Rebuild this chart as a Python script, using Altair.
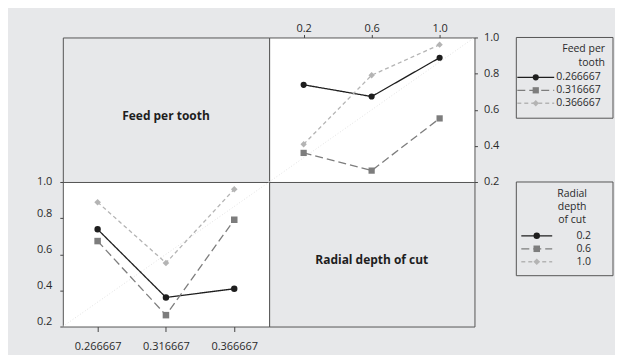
import altair as alt
import pandas as pd

# ---------------- data ----------------
feed_levels = [0.266667, 0.316667, 0.366667]
feed_labels = ["0.266667", "0.316667", "0.366667"]
depth_levels = [0.2, 0.6, 1.0]
depth_labels = ["0.2", "0.6", "1.0"]
# mean response: rows = feed per tooth level, columns = radial depth of cut level
mean_resp = [
    [0.738, 0.673, 0.888],
    [0.361, 0.263, 0.552],
    [0.409, 0.791, 0.960],
]
y_ticks = [0.2, 0.4, 0.6, 0.8, 1.0]
panel_titles = ["Feed per tooth", "Radial depth of cut"]
legend1_title = ["Feed per", "tooth"]
legend2_title = ["Radial", "depth", "of cut"]

# ---------------- styles ----------------
BG = "#e7e8ea"
FRAME = "#555555"
TXT = "#2a2a2a"
FONT = "Open Sans"
series_colors = ["#1e1e1e", "#7d7d7d", "#b4b4b4"]
series_dash = [[1, 0], [8, 4], [4, 3]]
series_shape = ["circle", "square", "diamond"]
series_size = [38, 44, 72]

W1, W2, H = 207, 206, 145

tr_rows = []
for i, f in enumerate(feed_labels):
    for j, d in enumerate(depth_levels):
        tr_rows.append({"x": d, "series": f, "value": mean_resp[i][j]})
bl_rows = []
for j, d in enumerate(depth_labels):
    for i, f in enumerate(feed_levels):
        bl_rows.append({"x": f, "series": d, "value": mean_resp[i][j]})
tr_df = pd.DataFrame(tr_rows)
bl_df = pd.DataFrame(bl_rows)
one = pd.DataFrame({"k": [0]})


def series_encodings(labels):
    color = alt.Color("series:N", scale=alt.Scale(domain=labels, range=series_colors), legend=None)
    dash = alt.StrokeDash("series:N", scale=alt.Scale(domain=labels, range=series_dash), legend=None)
    shape = alt.Shape("series:N", scale=alt.Scale(domain=labels, range=series_shape), legend=None)
    size = alt.Size("series:N", scale=alt.Scale(domain=labels, range=series_size), legend=None)
    return color, dash, shape, size


def interaction_panel(df, labels, xdom, xaxis, yaxis, width):
    color, dash, shape, size = series_encodings(labels)
    x = alt.X("x:Q", scale=alt.Scale(domain=xdom, nice=False, zero=False), axis=xaxis)
    y = alt.Y("value:Q", scale=alt.Scale(domain=[0.2, 1.0], nice=False, zero=False), axis=yaxis)
    diag = alt.Chart(one).mark_rule(color="#e2e2e2", strokeDash=[1, 2], strokeWidth=1).encode(
        x=alt.value(0), x2=alt.value(width), y=alt.value(H), y2=alt.value(0)
    )
    base = alt.Chart(df).encode(x=x, y=y, color=color)
    lines = base.mark_line(strokeWidth=1.3).encode(strokeDash=dash)
    pts = base.mark_point(filled=True, opacity=1).encode(shape=shape, size=size)
    return alt.layer(diag, lines, pts).properties(
        width=width, height=H, view=alt.ViewBackground(fill="white", stroke=FRAME, strokeWidth=1)
    )


def text_panel(name, width):
    return alt.Chart(pd.DataFrame({"name": [name]})).mark_text(
        font=FONT, fontSize=12, fontWeight="bold", color="#1e1e1e", dy=6
    ).encode(text="name:N").properties(
        width=width, height=H, view=alt.ViewBackground(fill=BG, stroke=FRAME, strokeWidth=1)
    )


def legend_panel(title_lines, labels, width, height, box_x, title_x, title_align, title_rows,
                 entry_rows, line_x1, line_x2, marker_x, label_x, label_align):
    color, dash, shape, size = series_encodings(labels)
    yscale = alt.Scale(domain=[0, height], range=[0, height], nice=False, zero=False)
    box = alt.Chart(one).mark_rect(fill=BG, stroke=FRAME, strokeWidth=1).encode(
        x=alt.value(box_x), x2=alt.value(width), y=alt.value(0), y2=alt.value(height)
    )
    tdf = pd.DataFrame({"t": title_lines, "y": title_rows})
    title = alt.Chart(tdf).mark_text(
        font=FONT, fontSize=10.5, color=TXT, align=title_align, baseline="middle"
    ).encode(x=alt.value(title_x), y=alt.Y("y:Q", scale=yscale, axis=None), text="t:N")
    edf = pd.DataFrame({"series": labels, "y": entry_rows})
    ey = alt.Y("y:Q", scale=yscale, axis=None)
    rule = alt.Chart(edf).mark_rule(strokeWidth=1.3).encode(
        x=alt.value(line_x1), x2=alt.value(line_x2), y=ey, color=color, strokeDash=dash
    )
    pts = alt.Chart(edf).mark_point(filled=True, opacity=1).encode(
        x=alt.value(marker_x), y=ey, color=color, shape=shape, size=size
    )
    lab = alt.Chart(edf).mark_text(
        font=FONT, fontSize=10.5, color=TXT, align=label_align, baseline="middle"
    ).encode(x=alt.value(label_x), y=ey, text="series:N")
    return alt.layer(box, title, rule, pts, lab).properties(
        width=width, height=height,
        view=alt.ViewBackground(fill="transparent", stroke="transparent")
    )


tr_xaxis = alt.Axis(orient="top", values=depth_levels, format=".1f", title=None, tickSize=3,
                    labelPadding=1, labelFlush=False, grid=False, domain=False)
tr_yaxis = alt.Axis(orient="right", values=y_ticks, format=".1f", title=None, tickSize=3,
                    labelPadding=6, labelFlush=False, grid=False, domain=False)
bl_xaxis = alt.Axis(orient="bottom", values=feed_levels, format=".6f", title=None, tickSize=5,
                    labelPadding=9, labelFlush=False, grid=False, domain=False)
bl_yaxis = alt.Axis(orient="left", values=y_ticks, format=".1f", title=None, tickSize=3,
                    labelPadding=8, labelFlush=False, grid=False, domain=False,
                    labelOffset={"condition": {"test": "datum.value > 0.95", "value": 0}, "value": -5})

tl = text_panel(panel_titles[0], W1)
tr = interaction_panel(tr_df, feed_labels, [-0.003, 1.205], tr_xaxis, tr_yaxis, W2)
bl = interaction_panel(bl_df, depth_labels, [0.2412, 0.3922], bl_xaxis, bl_yaxis, W1)
br = text_panel(panel_titles[1], W2)

leg1 = legend_panel(legend1_title, feed_labels, 139, 81, 42, 131, "right", [12, 25.5],
                    [40, 53, 66], 43, 80, 61.5, 82, "left")
leg2 = legend_panel(legend2_title, depth_labels, 139, 94, 42, 98, "center", [12, 25, 38],
                    [54, 67, 80], 47, 78, 62.5, 117, "right")

chart = alt.concat(tl, tr, leg1, bl, br, leg2, columns=3, spacing=0, bounds="flush").properties(
    padding={"left": 28, "top": 13, "right": 1, "bottom": 2}
).configure(background=BG).configure_axis(
    labelFont=FONT, labelFontSize=11, labelColor=TXT, tickColor="#444444", tickWidth=1
)

chart.save("out.html", embed_options={"renderer": "svg", "actions": False})
